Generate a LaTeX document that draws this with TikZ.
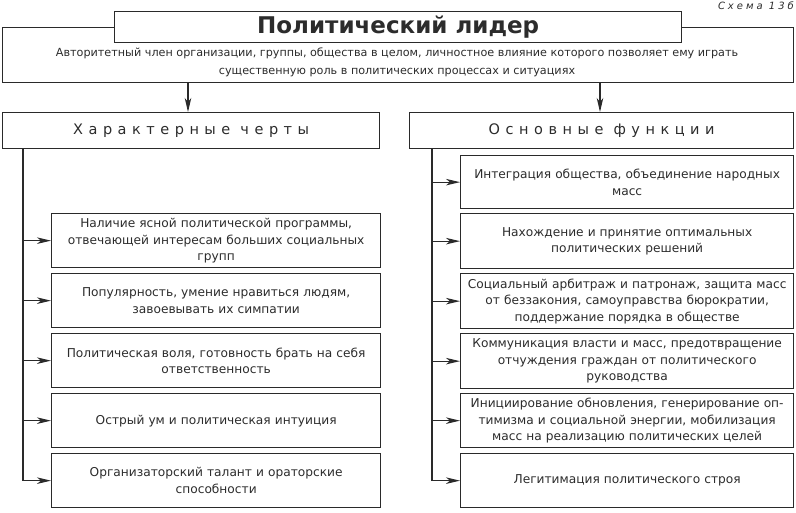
\documentclass[tikz,border=0pt]{standalone}
\usepackage{fontspec}
\setmainfont{DejaVu Sans}
\newfontfamily\spacedfont[LetterSpace=38]{DejaVu Sans}
\newfontfamily\schemafont[LetterSpace=30]{DejaVu Sans}
\usetikzlibrary{arrows.meta}
\definecolor{ink}{HTML}{2A2A2A}
\definecolor{txt}{HTML}{2C2C2C}
\begin{document}
\begin{tikzpicture}[x=1pt,y=-1pt,
  box/.style={draw=ink, line width=1.3pt, fill=white, inner sep=0pt, anchor=north west, text=txt},
  lbox/.style={box, minimum width=329pt, minimum height=54pt, align=center, text width=322pt,
     font=\fontsize{12.2pt}{16.6pt}\selectfont},
  rbox/.style={box, minimum width=333pt, align=center, text width=330pt,
     font=\fontsize{12.2pt}{16.6pt}\selectfont},
  head/.style={box, minimum height=36pt, align=center, font=\spacedfont\fontsize{14.5pt}{16pt}\selectfont},
  arr/.style={draw=ink, line width=1.2pt, -{Stealth[length=14pt,width=6.5pt,inset=4pt]}},
  trunk/.style={draw=ink, line width=1.3pt}]
\useasboundingbox (0,0) rectangle (796,512);
\fill[white] (0,0) rectangle (796,512);

% schema label
\node[anchor=base east, text=txt, inner sep=0pt, font=\schemafont\itshape\fontsize{10pt}{12pt}\selectfont] (schema) at (794,9) {Схема 13б};

% definition box and title
\node[box, minimum width=791pt, minimum height=55pt] (def) at (2,27) {};
\node[anchor=center, inner sep=0pt, align=center, text=txt, font=\fontsize{11.2pt}{18pt}\selectfont] (deftext) at (397,62)
  {Авторитетный член организации, группы, общества в целом, личностное влияние которого позволяет ему играть\\
   существенную роль в политических процессах и ситуациях};
\node[box, minimum width=567pt, minimum height=31pt] (title) at (114,11) {};
\node[text=txt, inner sep=0pt, font=\bfseries\fontsize{23pt}{26pt}\selectfont] (titletext) at (title.center) {Политический лидер};

% headings
\node[head, minimum width=377pt] (H1) at (2,112) {Характерные черты};
\node[head, minimum width=384pt] (H2) at (409,112) {Основные функции};

\coordinate (a1) at (188,0);
\coordinate (a2) at (600,0);
\draw[arr] (a1 |- def.south) -- (a1 |- H1.north);
\draw[arr] (a2 |- def.south) -- (a2 |- H2.north);

% left column
\node[lbox] (L1) at (51,213) {Наличие ясной политической программы,\\ отвечающей интересам больших социальных\\ групп};
\node[lbox] (L2) at (51,273) {Популярность, умение нравиться людям,\\ завоевывать их симпатии};
\node[lbox] (L3) at (51,333) {Политическая воля, готовность брать на себя\\ ответственность};
\node[lbox] (L4) at (51,393) {Острый ум и политическая интуиция};
\node[lbox] (L5) at (51,453) {Организаторский талант и ораторские\\ способности};

% right column
\node[rbox, minimum height=53pt] (R1) at (460,155) {Интеграция общества, объединение народных\\ масс};
\node[rbox, minimum height=55pt] (R2) at (460,213) {Нахождение и принятие оптимальных\\ политических решений};
\node[rbox, minimum height=55pt] (R3) at (460,273) {Социальный арбитраж и патронаж, защита масс\\ от беззакония, самоуправства бюрократии,\\ поддержание порядка в обществе};
\node[rbox, minimum height=55pt] (R4) at (460,333) {Коммуникация власти и масс, предотвращение\\ отчуждения граждан от политического\\ руководства};
\node[rbox, minimum height=54pt] (R5) at (460,393) {Инициирование обновления, генерирование оп-\\ тимизма и социальной энергии, мобилизация\\ масс на реализацию политических целей};
\node[rbox, minimum height=54pt] (R6) at (460,453) {Легитимация политического строя};

% trunks
\coordinate (lt) at (23,0);
\coordinate (rt) at (432,0);
\draw[trunk] (lt |- H1.south) -- (lt |- L5.west);
\draw[trunk] (rt |- H2.south) -- (rt |- R6.west);
\foreach \n in {L1,L2,L3,L4,L5} \draw[arr] (lt |- \n.west) -- (\n.west);
\foreach \n in {R1,R2,R3,R4,R5,R6} \draw[arr] (rt |- \n.west) -- (\n.west);
\end{tikzpicture}
\end{document}
